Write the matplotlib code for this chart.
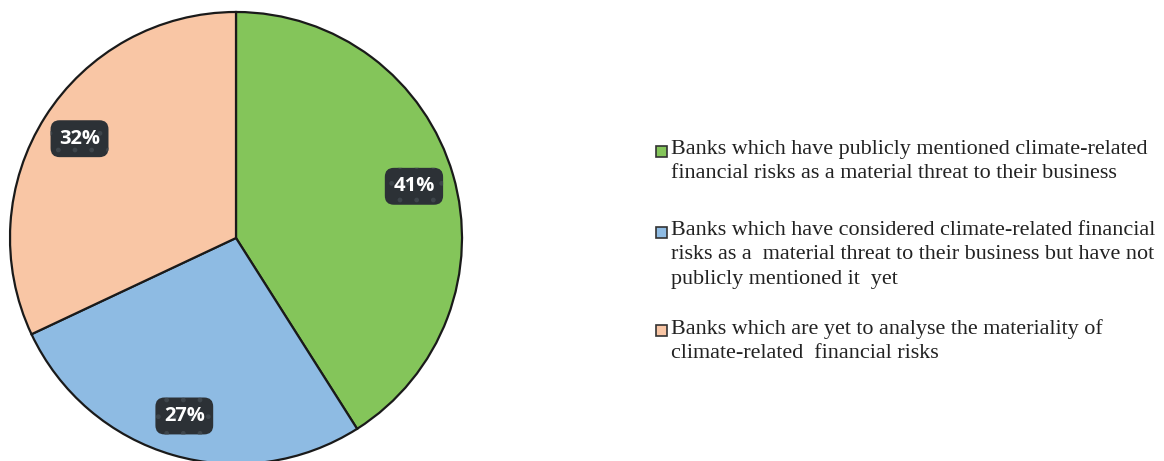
import matplotlib.pyplot as plt
from matplotlib.patches import Rectangle

shares = [41, 27, 32]
colors = ["#84c55a", "#8ebbe3", "#f9c6a5"]
labels = [
    "Banks which have publicly mentioned climate-related\nfinancial risks as a material threat to their business",
    "Banks which have considered climate-related financial\nrisks as a  material threat to their business but have not\npublicly mentioned it  yet",
    "Banks which are yet to analyse the materiality of\nclimate-related  financial risks",
]

W, H = 1164, 461
fig = plt.figure(figsize=(W / 100, H / 100), dpi=100)
ax = fig.add_axes([0, 0, 1, 1])

wedges, _, pct_texts = ax.pie(
    shares, colors=colors, startangle=90, counterclock=False,
    center=(236, H - 238), radius=226, frame=True,
    autopct="%d%%", pctdistance=0.82,
    wedgeprops=dict(edgecolor="#1a1a1a", linewidth=1.6),
)
ax.set_xlim(0, W)
ax.set_ylim(0, H)
ax.set_aspect("equal")
ax.axis("off")

for t in pct_texts:
    t.set_color("white")
    t.set_fontsize(14.5)
    t.set_fontweight("bold")
    t.set_family("Open Sans")
    t.set_bbox(dict(boxstyle="round,pad=0.42,rounding_size=0.45", fc="#2c3136",
                    ec="#3e454b", lw=0.0, hatch="."))

# legend drawn by hand so the marker sits on the first line of each entry
tops = [140, 221, 319]
for lab, col, top in zip(labels, colors, tops):
    ax.add_patch(Rectangle((656, H - top - 17), 11, 11, fc=col, ec="#333333",
                           lw=1.2, clip_on=False))
    ax.text(671, H - top, lab, fontsize=15.9, family="Liberation Serif",
            va="top", ha="left", color="#222222", linespacing=1.38)

fig.savefig("out.png", dpi=100)
